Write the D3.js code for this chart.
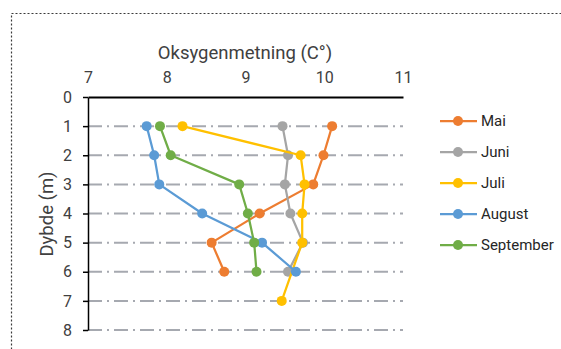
<!DOCTYPE html>
<html>
<head>
<meta charset="utf-8">
<script src="https://cdn.jsdelivr.net/npm/d3@7"></script>
<style>
  html, body { margin: 0; padding: 0; background: #fff; }
  svg { display: block; font-family: Roboto, "Noto Sans", sans-serif; }
</style>
</head>
<body>
<svg id="chart" width="561" height="349"></svg>
<script>
// ---- data ----
const depths = [1, 2, 3, 4, 5, 6, 7];
const seriesNames = ["Mai", "Juni", "Juli", "August", "September"];
const seriesColors = ["#ED7D31", "#A5A5A5", "#FFC000", "#5B9BD5", "#70AD47"];
const mai       = [10.10, 9.99, 9.86, 9.18, 8.57, 8.73, null];
const juni      = [9.47, 9.54, 9.50, 9.57, 9.73, 9.54, null];
const juli      = [8.20, 9.70, 9.75, 9.72, 9.72, null, 9.46];
const august    = [7.745, 7.84, 7.905, 8.45, 9.21, 9.64, null];
const september = [7.914, 8.05, 8.92, 9.03, 9.11, 9.14, null];
const xTicks = [7, 8, 9, 10, 11];
const yTicks = [0, 1, 2, 3, 4, 5, 6, 7, 8];
const xTitle = "Oksygenmetning (C°)";
const yTitle = "Dybde (m)";

const allSeries = [mai, juni, juli, august, september];

const svg = d3.select("#chart");

// outer dotted border
svg.append("rect")
  .attr("x", 11.5).attr("y", 13.5)
  .attr("width", 600).attr("height", 400)
  .attr("fill", "none")
  .attr("stroke", "#3a3a3a")
  .attr("stroke-width", 1.2)
  .attr("stroke-dasharray", "2,2");

const x = d3.scaleLinear().domain([7, 11]).range([88, 403]);
const y = d3.scaleLinear().domain([0, 8]).range([97, 330]);

// gridlines
svg.append("g").selectAll("line")
  .data(yTicks.filter(t => t > 0))
  .join("line")
  .attr("x1", x(7)).attr("x2", x(11))
  .attr("y1", d => y(d)).attr("y2", d => y(d))
  .attr("stroke", "#A6A9B0")
  .attr("stroke-width", 2)
  .attr("stroke-dasharray", "14,5,2,5");

// top axis (labels only)
const xAxis = svg.append("g")
  .attr("transform", `translate(0,${y(0)})`)
  .call(d3.axisTop(x).tickValues(xTicks).tickSize(0).tickPadding(14).tickFormat(d3.format("d")));
xAxis.select(".domain").attr("stroke", "#000").attr("stroke-width", 2);
xAxis.selectAll("text").attr("font-size", 16).attr("fill", "#404040")
  .attr("font-family", "Roboto, sans-serif");

// left axis
const yAxis = svg.append("g")
  .attr("transform", `translate(${x(7)},0)`)
  .call(d3.axisLeft(y).tickValues(yTicks).tickSize(5).tickSizeOuter(0).tickPadding(11).tickFormat(d3.format("d")));
yAxis.select(".domain").attr("stroke", "#000").attr("stroke-width", 1.5);
yAxis.selectAll(".tick line").attr("stroke", "#000").attr("stroke-width", 1.5);
yAxis.selectAll("text").attr("font-size", 16).attr("fill", "#404040")
  .attr("font-family", "Roboto, sans-serif");

// titles
svg.append("text")
  .attr("x", 245).attr("y", 59)
  .attr("text-anchor", "middle")
  .attr("font-size", 18.5).attr("fill", "#404040")
  .text(xTitle);

svg.append("text")
  .attr("transform", `translate(53,214) rotate(-90)`)
  .attr("text-anchor", "middle")
  .attr("font-size", 18.5).attr("fill", "#404040")
  .text(yTitle);

// series
const line = d3.line()
  .defined(d => d.v != null)
  .x(d => x(d.v)).y(d => y(d.depth));

allSeries.forEach((vals, i) => {
  const pts = vals.map((v, j) => ({ v, depth: depths[j] })).filter(d => d.v != null);
  const g = svg.append("g");
  g.append("path")
    .datum(pts)
    .attr("d", line)
    .attr("fill", "none")
    .attr("stroke", seriesColors[i])
    .attr("stroke-width", 2.25)
    .attr("stroke-linejoin", "round");
  g.selectAll("circle")
    .data(pts)
    .join("circle")
    .attr("cx", d => x(d.v)).attr("cy", d => y(d.depth))
    .attr("r", 5)
    .attr("fill", seriesColors[i]);
});

// legend
const legend = svg.append("g");
seriesNames.forEach((name, i) => {
  const ly = 121 + i * 31;
  legend.append("line")
    .attr("x1", 440).attr("x2", 477)
    .attr("y1", ly).attr("y2", ly)
    .attr("stroke", seriesColors[i]).attr("stroke-width", 2.25);
  legend.append("circle")
    .attr("cx", 458).attr("cy", ly).attr("r", 5)
    .attr("fill", seriesColors[i]);
  legend.append("text")
    .attr("x", 481).attr("y", ly).attr("dy", "0.35em")
    .attr("font-size", 15).attr("fill", "#262626")
    .text(name);
});
</script>
</body>
</html>
